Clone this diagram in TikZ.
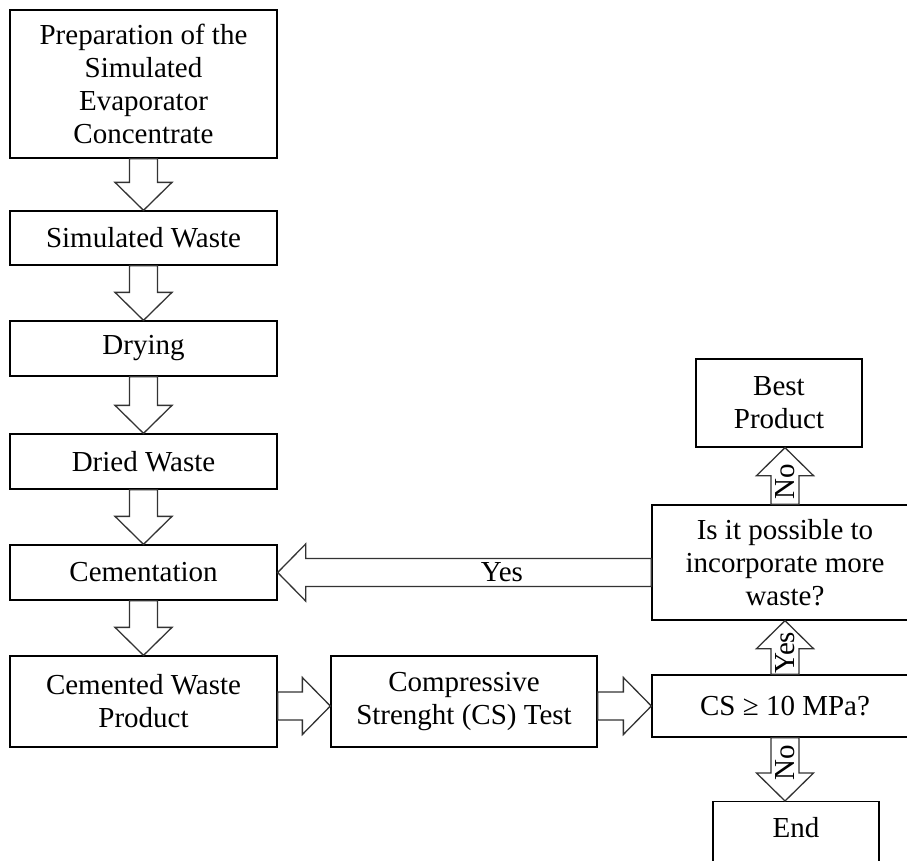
\documentclass[tikz,border=0pt]{standalone}
\usepackage{fontspec}
\setmainfont{Liberation Serif}
\usetikzlibrary{calc}

\tikzset{
  stepbox/.style={draw, line width=1.3pt, align=center, inner sep=0pt, font=\fontsize{29}{33}\selectfont},
  hollow/.style={draw=black!80, line width=1.3pt, fill=white, line join=miter},
  arrowtext/.style={font=\fontsize{29}{33}\selectfont, inner sep=0pt}
}

% hollow block arrow: tail, tip, text rotation, text
\newcommand{\blockarrow}[4]{%
  \coordinate (ba-t) at (#1);
  \coordinate (ba-p) at (#2);
  \coordinate (ba-h) at ($(ba-p)!28pt!(ba-t)$);
  \draw[hollow] ($(ba-t)!14pt!90:(ba-p)$) -- ($(ba-h)!14pt!90:(ba-p)$) -- ($(ba-h)!28.5pt!90:(ba-p)$) -- (ba-p)
    -- ($(ba-h)!28.5pt!-90:(ba-p)$) -- ($(ba-h)!14pt!-90:(ba-p)$) -- ($(ba-t)!14pt!-90:(ba-p)$) -- cycle;
  \ifx&#4&\else\node[arrowtext, rotate=#3] at ($(ba-t)!0.4!(ba-p)$) {#4};\fi
}

\begin{document}
\begin{tikzpicture}[x=1pt, y=-1pt]
\useasboundingbox (0,0) rectangle (907,860);

% left column
\node[stepbox, minimum width=267pt, minimum height=148pt] (prep) at (143.5,84) {Preparation of the\\Simulated\\Evaporator\\Concentrate};
\node[stepbox, minimum width=267pt, minimum height=54pt] (simwaste) at (143.5,238) {Simulated Waste};
\node[stepbox, minimum width=267pt, minimum height=55pt] (drying) at (143.5,348.5) {Drying};
\node[stepbox, minimum width=267pt, minimum height=55pt] (dried) at (143.5,461.5) {Dried Waste};
\node[stepbox, minimum width=267pt, minimum height=55pt] (cementation) at (143.5,572.5) {Cementation};
\node[stepbox, minimum width=267pt, minimum height=91pt] (cemented) at (143.5,701.5) {Cemented Waste\\Product};

% bottom row and right column
\node[stepbox, minimum width=266pt, minimum height=91pt] (cstest) at (464,701.5) {Compressive\\Strenght (CS) Test};
\node[stepbox, minimum width=266pt, minimum height=62pt] (csmin) at (785,706) {CS ≥ 10 MPa?};
\node[stepbox, minimum width=266pt, minimum height=115pt] (more) at (785,562.5) {Is it possible to\\incorporate more\\waste?};
\node[stepbox, minimum width=166pt, minimum height=88pt] (best) at (779,403) {Best\\Product};
\node[stepbox, minimum width=166pt, anchor=north, inner ysep=15.5pt, text height=20pt, text depth=30pt] (end) at (796,801) {End};

% block arrows
\blockarrow{prep.south}{simwaste.north}{0}{}
\blockarrow{simwaste.south}{drying.north}{0}{}
\blockarrow{drying.south}{dried.north}{0}{}
\blockarrow{dried.south}{cementation.north}{0}{}
\blockarrow{cementation.south}{cemented.north}{0}{}
\blockarrow{cemented.east |- csmin.west}{cstest.west |- csmin.west}{0}{}
\blockarrow{cstest.east |- csmin.west}{csmin.west}{0}{}
\blockarrow{csmin.north}{csmin.north |- more.south}{90}{Yes}
\blockarrow{csmin.south}{csmin.south |- end.north}{90}{No}
\blockarrow{more.north}{more.north |- best.south}{90}{No}
\blockarrow{more.west |- cementation.east}{cementation.east}{0}{Yes}
\end{tikzpicture}
\end{document}
